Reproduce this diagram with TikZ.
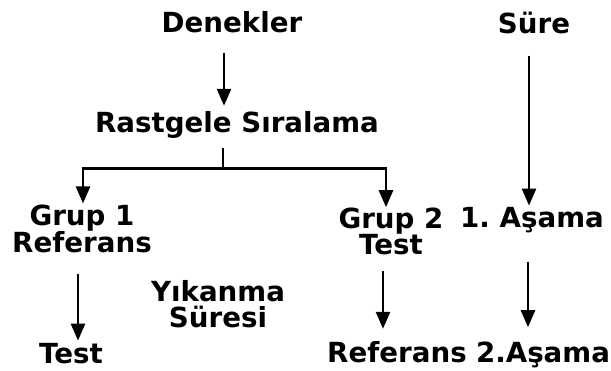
\documentclass[tikz,border=0pt]{standalone}
\usepackage{fontspec}
\setmainfont{DejaVu Sans}
\usetikzlibrary{arrows.meta,calc}

\begin{document}
\frenchspacing
\begin{tikzpicture}[x=1pt,y=-1pt,
  lbl/.style={font=\bfseries\fontsize{27.7}{26}\selectfont, inner sep=0pt, anchor=base},
  lbltwo/.style={lbl, align=center},
  conn/.style={line width=2.6pt},
  arr/.style={conn, -{Triangle[width=14pt,length=17pt]}}]
\useasboundingbox (0,0) rectangle (611,371);

% labels (two-line labels are placed by the baseline of their last line)
\node[lbl]    (den)  at (232,33)  {Denekler};
\node[lbl]    (sure) at (534,34)  {Süre};
\node[lbl]    (rs)   at (237,133) {Rastgele Sıralama};
\node[lbltwo] (g1)   at (82,253)  {Grup 1\\Referans};
\node[lbltwo] (g2)   at (391,255) {Grup 2\\Test};
\node[lbl]    (as1)  at (532,228) {1. Aşama};
\node[lbltwo] (yik)  at (218,328) {Yıkanma\\Süresi};
\node[lbl]    (t1)   at (71,364)  {Test};
\node[lbl]    (r2)   at (397,363) {Referans};
\node[lbl]    (as2)  at (543,363) {2.Aşama};

% Denekler -> Rastgele Sıralama
\coordinate (a1) at ($(den.south)+(-8,19)$);
\draw[arr] (a1) -- (a1 |- {$(rs.north)+(0,-6)$});

% branching to the two groups
\coordinate (br) at ($(rs.south)+(-14,29.5)$);
\draw[conn] ($(rs.south)+(-14,9)$) -- (br);
\draw[arr] (br) -| ($(g1.north)+(1,-1)$);
\draw[arr] (br) -| ($(g2.north)+(-5,-1)$);

% time axis
\coordinate (a2) at ($(sure.south)+(-5,21)$);
\draw[arr] (a2) -- (a2 |- {$(as1.north)+(0,-2)$});
\coordinate (a3) at ($(as1.south)+(-4,28)$);
\draw[arr] (a3) -- (a3 |- {$(as2.north)+(0,-15)$});

% second period
\coordinate (a4) at ($(g1.south)+(-4,20)$);
\draw[arr] (a4) -- (a4 |- {$(t1.north)+(0,-3)$});
\coordinate (a5) at ($(g2.south)+(-8,15)$);
\draw[arr] (a5) -- (a5 |- {$(r2.north)+(0,-13)$});
\end{tikzpicture}
\end{document}
